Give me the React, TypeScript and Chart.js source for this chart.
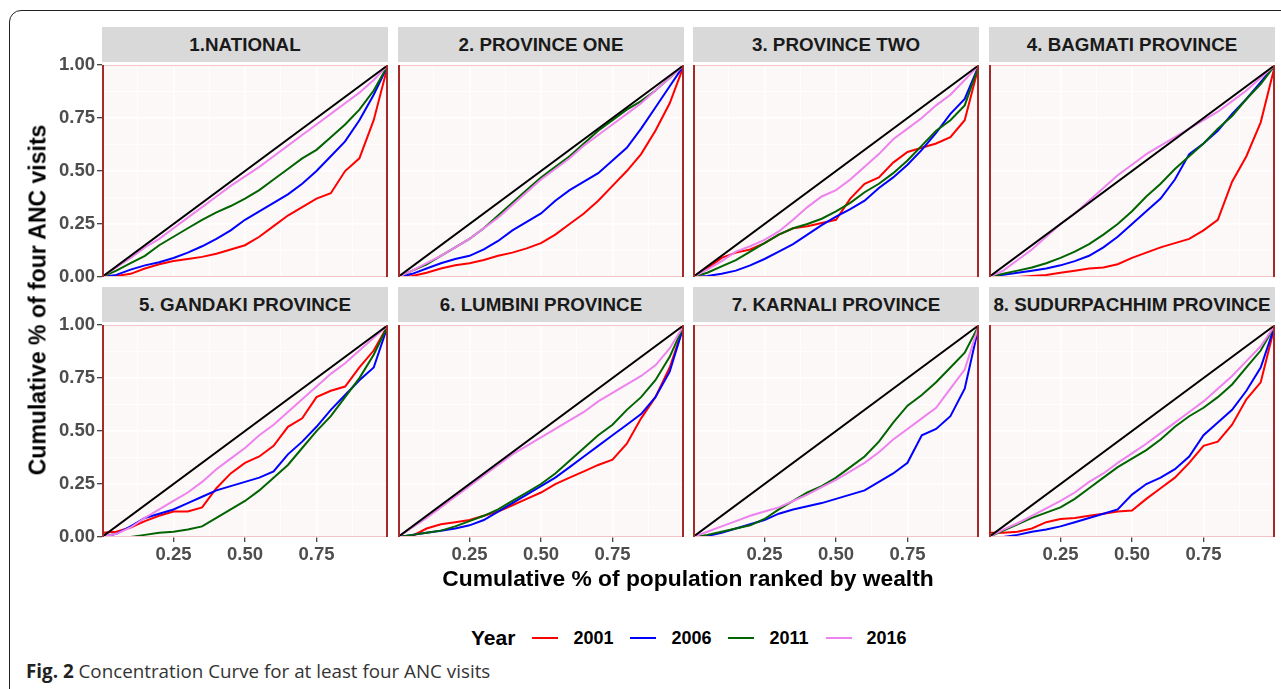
import React, { useEffect, useRef } from "react";
import { Chart, registerables } from "chart.js";
Chart.register(...registerables);

// ---------- data ----------
const xPoints = [0, 0.05, 0.1, 0.15, 0.2, 0.25, 0.3, 0.35, 0.4, 0.45, 0.5, 0.55, 0.6, 0.65, 0.7, 0.75, 0.8, 0.85, 0.9, 0.95, 1];
const years = ["2001", "2006", "2011", "2016"];
const yearColors = ["#ff0000", "#0000ff", "#006400", "#ee82ee"];
const panelTitles = [
  "1.NATIONAL", "2. PROVINCE ONE", "3. PROVINCE TWO", "4. BAGMATI PROVINCE",
  "5. GANDAKI PROVINCE", "6. LUMBINI PROVINCE", "7. KARNALI PROVINCE", "8. SUDURPACHHIM PROVINCE",
];
const xTickLabels = [0.25, 0.5, 0.75];
const yTickLabels = [0, 0.25, 0.5, 0.75, 1];
const equality = [0, 1];

const national2001 = [0, .005, .015, .04, .06, .075, .085, .095, .11, .13, .15, .19, .24, .29, .33, .37, .395, .5, .56, .74, 1];
const national2006 = [0, .01, .035, .055, .07, .09, .115, .145, .18, .22, .27, .31, .35, .39, .44, .5, .57, .64, .74, .86, 1];
const national2011 = [0, .03, .065, .1, .15, .19, .23, .27, .305, .335, .37, .41, .46, .51, .56, .6, .66, .72, .79, .88, 1];
const national2016 = [0, .045, .09, .14, .18, .23, .28, .33, .38, .43, .475, .52, .57, .62, .67, .72, .77, .82, .87, .93, 1];

const one2001 = [0, .005, .02, .04, .055, .065, .08, .1, .115, .135, .16, .2, .25, .3, .36, .43, .5, .58, .69, .82, 1];
const one2006 = [0, .015, .04, .065, .085, .1, .13, .17, .22, .26, .3, .36, .41, .45, .49, .55, .61, .7, .8, .9, 1];
const one2011 = [0, .03, .06, .1, .14, .18, .23, .29, .35, .41, .47, .52, .57, .63, .69, .74, .79, .83, .88, .94, 1];
const one2016 = [0, .03, .065, .1, .14, .18, .23, .28, .34, .4, .46, .51, .56, .62, .67, .72, .77, .82, .88, .94, 1];

const two2001 = [0, .04, .09, .115, .13, .16, .2, .23, .24, .255, .27, .37, .44, .47, .54, .59, .61, .63, .66, .74, 1];
const two2006 = [0, .005, .015, .03, .055, .085, .12, .155, .2, .245, .285, .32, .36, .42, .47, .53, .6, .68, .77, .84, 1];
const two2011 = [0, .02, .05, .08, .12, .16, .2, .23, .25, .275, .31, .35, .4, .44, .49, .55, .62, .69, .74, .81, 1];
const two2016 = [0, .035, .075, .12, .145, .175, .215, .27, .33, .38, .41, .46, .52, .58, .65, .7, .75, .81, .86, .93, 1];

const bagmati2001 = [0, 0, 0, .005, .01, .02, .03, .04, .045, .06, .09, .115, .14, .16, .18, .22, .27, .45, .57, .73, 1];
const bagmati2006 = [0, .01, .02, .03, .04, .055, .075, .1, .14, .19, .25, .31, .37, .46, .58, .63, .69, .77, .84, .92, 1];
const bagmati2011 = [0, .015, .03, .045, .065, .09, .12, .155, .2, .25, .31, .38, .44, .51, .57, .63, .7, .76, .84, .91, 1];
const bagmati2016 = [0, .03, .08, .13, .19, .25, .3, .36, .42, .48, .53, .58, .62, .66, .7, .74, .78, .83, .88, .94, 1];

const gandaki2001 = [.02, .025, .045, .075, .1, .12, .12, .14, .23, .3, .35, .38, .43, .52, .56, .66, .69, .71, .8, .88, 1];
const gandaki2006 = [0, .015, .05, .09, .11, .13, .16, .19, .22, .24, .26, .28, .31, .39, .45, .52, .6, .67, .74, .8, 1];
const gandaki2011 = [0, 0, 0, .01, .02, .025, .035, .05, .09, .13, .17, .22, .28, .34, .42, .5, .57, .66, .75, .86, 1];
const gandaki2016 = [0, .015, .045, .09, .13, .17, .21, .26, .32, .37, .42, .48, .53, .59, .65, .71, .77, .82, .88, .94, 1];

const lumbini2001 = [0, .005, .04, .06, .07, .08, .1, .12, .15, .18, .21, .25, .28, .31, .34, .365, .44, .56, .66, .8, 1];
const lumbini2006 = [0, .01, .02, .03, .04, .055, .08, .12, .16, .2, .24, .28, .33, .38, .43, .48, .53, .58, .66, .78, 1];
const lumbini2011 = [0, .01, .02, .03, .05, .075, .1, .13, .17, .21, .25, .3, .36, .42, .48, .53, .6, .66, .74, .85, 1];
const lumbini2016 = [0, .045, .09, .14, .19, .24, .29, .34, .39, .43, .47, .51, .55, .59, .64, .68, .72, .76, .81, .89, 1];

const karnali2006 = [0, .005, .02, .04, .06, .08, .11, .13, .145, .16, .18, .2, .22, .26, .3, .35, .48, .51, .57, .7, 1];
const karnali2011 = [0, .01, .025, .04, .055, .085, .13, .17, .21, .24, .28, .33, .38, .45, .54, .62, .67, .73, .8, .87, 1];
const karnali2016 = [0, .025, .05, .075, .1, .12, .14, .17, .2, .235, .27, .31, .35, .4, .46, .51, .56, .61, .7, .79, 1];

const sudur2001 = [.02, .02, .025, .04, .07, .085, .09, .1, .11, .12, .125, .18, .23, .28, .35, .43, .45, .53, .65, .73, 1];
const sudur2006 = [0, 0, .01, .025, .035, .05, .07, .09, .11, .13, .2, .25, .28, .32, .38, .48, .54, .6, .69, .8, 1];
const sudur2011 = [0, .03, .06, .09, .115, .14, .18, .23, .28, .33, .37, .41, .46, .52, .57, .61, .66, .72, .8, .88, 1];
const sudur2016 = [0, .035, .065, .1, .135, .17, .21, .26, .3, .35, .395, .44, .49, .54, .59, .64, .7, .76, .83, .9, 1];

const panelSeries: (number[] | null)[][] = [
  [national2001, national2006, national2011, national2016],
  [one2001, one2006, one2011, one2016],
  [two2001, two2006, two2011, two2016],
  [bagmati2001, bagmati2006, bagmati2011, bagmati2016],
  [gandaki2001, gandaki2006, gandaki2011, gandaki2016],
  [lumbini2001, lumbini2006, lumbini2011, lumbini2016],
  [null, karnali2006, karnali2011, karnali2016],
  [sudur2001, sudur2006, sudur2011, sudur2016],
];

// ---------- layout ----------
const colLefts = [102, 398, 693, 989];
const rowTops = [62, 322];
const plotW = 286;
const plotH = 215;
const stripH = 35;
const axisW = 60;
const axisH = 32;
const padTop = 10;
const padRight = 10;
const FONT = "'Liberation Sans', Arial, Helvetica, sans-serif";

const near = (a: number, b: number) => Math.abs(a - b) < 1e-6;
const gridVals = [0, 0.125, 0.25, 0.375, 0.5, 0.625, 0.75, 0.875, 1];
const isMajor = (v: number) => [0, 0.25, 0.5, 0.75, 1].some((t) => near(t, v));

function Panel({ idx }: { idx: number }) {
  const ref = useRef<HTMLCanvasElement>(null);
  const col = idx % 4;
  const row = Math.floor(idx / 4);
  const W = axisW + plotW + padRight;
  const H = padTop + plotH + axisH;

  useEffect(() => {
    if (!ref.current) return;
    const series = panelSeries[idx];
    const datasets: any[] = [];
    series.forEach((s, i) => {
      if (!s) return;
      datasets.push({
        label: years[i],
        data: xPoints.map((x, j) => ({ x, y: s[j] })),
        borderColor: yearColors[i],
        borderWidth: 2,
        pointRadius: 0,
        tension: 0,
        order: 4 - i,
      });
    });
    datasets.push({
      label: "equality",
      data: equality.map((v) => ({ x: v, y: v })),
      borderColor: "#000000",
      borderWidth: 2,
      pointRadius: 0,
      order: 0,
    });

    const showX = row === 1;
    const showY = col === 0;

    const panelPlugin = {
      id: "panelDecor",
      beforeDraw(chart: any) {
        const { ctx, chartArea: a } = chart;
        ctx.save();
        ctx.fillStyle = "#fdf8f8";
        ctx.fillRect(a.left, a.top, a.right - a.left, a.bottom - a.top);
        ctx.restore();
      },
      afterDatasetsDraw(chart: any) {
        const { ctx, chartArea: a } = chart;
        ctx.save();
        ctx.strokeStyle = "#f3c4c4";
        ctx.lineWidth = 1;
        ctx.beginPath();
        ctx.moveTo(a.left, a.top + 0.5);
        ctx.lineTo(a.right, a.top + 0.5);
        ctx.moveTo(a.left, a.bottom - 0.5);
        ctx.lineTo(a.right, a.bottom - 0.5);
        ctx.stroke();
        ctx.strokeStyle = "#a52a2a";
        ctx.lineWidth = 2;
        ctx.beginPath();
        ctx.moveTo(a.left + 1, a.top);
        ctx.lineTo(a.left + 1, a.bottom);
        ctx.moveTo(a.right - 1, a.top);
        ctx.lineTo(a.right - 1, a.bottom);
        ctx.stroke();
        ctx.restore();
      },
    };

    const chart = new Chart(ref.current, {
      type: "scatter",
      data: { datasets },
      plugins: [panelPlugin],
      options: {
        animation: false,
        responsive: false,
        maintainAspectRatio: false,
        showLine: true,
        layout: { padding: { top: padTop, right: padRight, left: 0, bottom: 0 } },
        plugins: { legend: { display: false }, tooltip: { enabled: false } },
        elements: { point: { radius: 0 }, line: { tension: 0 } },
        scales: {
          x: {
            type: "linear",
            min: 0,
            max: 1,
            afterBuildTicks: (s: any) => {
              s.ticks = gridVals.map((v) => ({ value: v }));
            },
            afterFit: (s: any) => {
              s.height = axisH;
            },
            border: { display: false },
            grid: {
              color: "#ffffff",
              lineWidth: (c: any) => (isMajor(c.tick.value) ? 1.4 : 0.7),
              drawTicks: true,
              tickLength: 5,
              tickWidth: 1.2,
              tickColor: (c: any) =>
                showX && xTickLabels.some((t) => near(t, c.tick.value)) ? "#333333" : "rgba(0,0,0,0)",
            },
            ticks: {
              autoSkip: false,
              maxRotation: 0,
              minRotation: 0,
              padding: 2,
              color: "#4d4d4d",
              font: { family: FONT, size: 18.5, weight: "bold" },
              callback: (v: any) =>
                showX && xTickLabels.some((t) => near(t, Number(v))) ? Number(v).toFixed(2) : "",
            },
          },
          y: {
            type: "linear",
            min: 0,
            max: 1,
            afterBuildTicks: (s: any) => {
              s.ticks = gridVals.map((v) => ({ value: v }));
            },
            afterFit: (s: any) => {
              s.width = axisW;
            },
            border: { display: false },
            grid: {
              color: "#ffffff",
              lineWidth: (c: any) => (isMajor(c.tick.value) ? 1.4 : 0.7),
              drawTicks: true,
              tickLength: 5,
              tickWidth: 1.2,
              tickColor: (c: any) =>
                showY && yTickLabels.some((t) => near(t, c.tick.value)) ? "#333333" : "rgba(0,0,0,0)",
            },
            ticks: {
              autoSkip: false,
              padding: 2,
              color: "#4d4d4d",
              font: { family: FONT, size: 18.5, weight: "bold" },
              callback: (v: any) =>
                showY && yTickLabels.some((t) => near(t, Number(v))) ? Number(v).toFixed(2) : "",
            },
          },
        },
      } as any,
    });
    return () => chart.destroy();
  }, [idx]);

  const left = colLefts[col];
  const top = rowTops[row];
  return (
    <>
      <div
        style={{
          position: "absolute",
          left,
          top: top - stripH,
          width: plotW,
          height: stripH,
          background: "#d9d9d9",
          display: "flex",
          alignItems: "center",
          justifyContent: "center",
          fontFamily: FONT,
          fontWeight: "bold",
          fontSize: 18.8,
          color: "#1a1a1a",
          whiteSpace: "nowrap",
        }}
      >
        {panelTitles[idx]}
      </div>
      <canvas
        ref={ref}
        width={W}
        height={H}
        style={{ position: "absolute", left: left - axisW, top: top - padTop, width: W, height: H }}
      />
    </>
  );
}

export default function App() {
  return (
    <div style={{ position: "absolute", left: 0, top: 0, width: 1281, height: 689, overflow: "hidden", background: "#fff" }}>
      <div
        style={{
          position: "absolute",
          left: 9,
          top: 10,
          width: 1320,
          height: 720,
          border: "1.5px solid #222",
          borderTopLeftRadius: 12,
          boxSizing: "border-box",
        }}
      />
      {panelTitles.map((_, i) => (
        <Panel key={i} idx={i} />
      ))}
      <div
        style={{
          position: "absolute",
          left: 38,
          top: 300,
          transform: "translate(-50%, -50%) rotate(-90deg)",
          fontFamily: FONT,
          fontWeight: "bold",
          fontSize: 23,
          color: "#000",
          whiteSpace: "nowrap",
        }}
      >
        Cumulative % of four ANC visits
      </div>
      <div
        style={{
          position: "absolute",
          left: 688,
          top: 578,
          transform: "translate(-50%, -50%)",
          fontFamily: FONT,
          fontWeight: "bold",
          fontSize: 22.8,
          color: "#000",
          whiteSpace: "nowrap",
        }}
      >
        Cumulative % of population ranked by wealth
      </div>
      <div
        style={{
          position: "absolute",
          left: 471,
          top: 626,
          height: 24,
          display: "flex",
          alignItems: "center",
          fontFamily: FONT,
          fontWeight: "bold",
          whiteSpace: "nowrap",
        }}
      >
        <span style={{ fontSize: 21, color: "#000" }}>Year</span>
        {years.map((y, i) => (
          <React.Fragment key={y}>
            <span style={{ display: "inline-block", width: 26, height: 2, background: yearColors[i], marginLeft: 17 }} />
            <span style={{ fontSize: 18, color: "#000", marginLeft: 15 }}>{y}</span>
          </React.Fragment>
        ))}
      </div>
      <div
        style={{
          position: "absolute",
          left: 26,
          top: 658,
          fontFamily: "'Open Sans', 'Noto Sans', sans-serif",
          fontSize: 18.8,
          color: "#333",
          whiteSpace: "nowrap",
        }}
      >
        <b style={{ color: "#222" }}>Fig. 2</b> Concentration Curve for at least four ANC visits
      </div>
    </div>
  );
}
